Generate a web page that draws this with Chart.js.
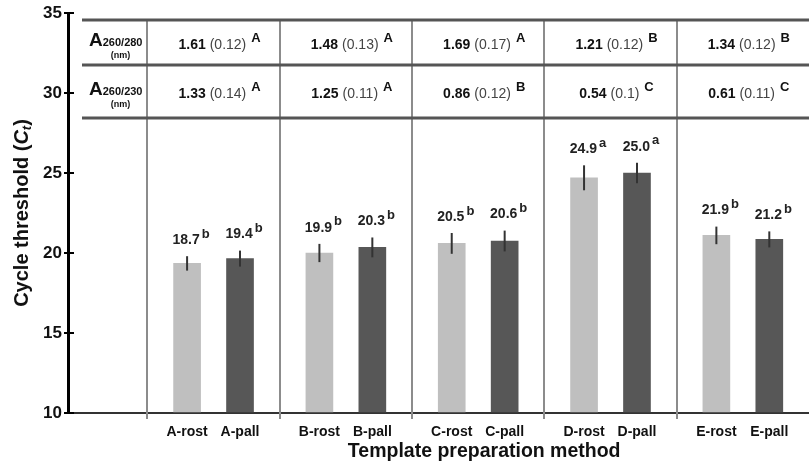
<!DOCTYPE html>
<html>
<head>
<meta charset="utf-8">
<script src="https://cdn.jsdelivr.net/npm/chart.js@4"></script>
<style>
  html, body { margin: 0; padding: 0; background: #fff; }
  #wrap { width: 809px; height: 467px; }
</style>
</head>
<body>
<div id="wrap"><canvas id="c" width="809" height="467"></canvas></div>
<script>
// ---- data ----
const groups = ['A', 'B', 'C', 'D', 'E'];
const barLabels = ['A-rost', 'A-pall', 'B-rost', 'B-pall', 'C-rost', 'C-pall', 'D-rost', 'D-pall', 'E-rost', 'E-pall'];
const rostValues = [19.35, 20.0, 20.6, 24.7, 21.1];
const pallValues = [19.65, 20.35, 20.75, 25.0, 20.85];
const rostErr = [0.45, 0.57, 0.65, 0.78, 0.55];
const pallErr = [0.5, 0.62, 0.65, 0.64, 0.5];
const rostMeanText = ['18.7', '19.9', '20.5', '24.9', '21.9'];
const pallMeanText = ['19.4', '20.3', '20.6', '25.0', '21.2'];
const rostLetters = ['b', 'b', 'b', 'a', 'b'];
const pallLetters = ['b', 'b', 'b', 'a', 'b'];
const a280Mean = ['1.61', '1.48', '1.69', '1.21', '1.34'];
const a280SD = ['(0.12)', '(0.13)', '(0.17)', '(0.12)', '(0.12)'];
const a280Letters = ['A', 'A', 'A', 'B', 'B'];
const a230Mean = ['1.33', '1.25', '0.86', '0.54', '0.61'];
const a230SD = ['(0.14)', '(0.11)', '(0.12)', '(0.1)', '(0.11)'];
const a230Letters = ['A', 'A', 'B', 'C', 'C'];
const yTicks = [10, 15, 20, 25, 30, 35];
const xTitle = 'Template preparation method';

// ---- layout constants ----
const ROST_OFF = 0.3, PALL_OFF = 0.7;
const FONT = '"Liberation Sans", Arial, sans-serif';
const barPositions = [];
groups.forEach((g, i) => { barPositions.push(i + ROST_OFF, i + PALL_OFF); });

const rostData = groups.map((g, i) => ({ x: i + ROST_OFF, y: rostValues[i] }));
const pallData = groups.map((g, i) => ({ x: i + PALL_OFF, y: pallValues[i] }));

function drawRich(ctx, parts, cx, cy) {
  let total = 0;
  parts.forEach(p => { ctx.font = p.font; p.w = ctx.measureText(p.text).width; total += p.w + (p.gap || 0); });
  let x = cx - total / 2;
  ctx.textAlign = 'left';
  ctx.textBaseline = 'middle';
  parts.forEach(p => {
    ctx.font = p.font;
    ctx.fillStyle = p.color || '#111';
    ctx.fillText(p.text, x, cy + (p.dy || 0));
    x += p.w + (p.gap || 0);
  });
}

const overlay = {
  id: 'overlay',
  beforeDatasetsDraw(chart) {
    const ctx = chart.ctx, ca = chart.chartArea;
    const xs = chart.scales.x;
    const t1 = ca.top + 7, t2 = ca.top + 52, t3 = ca.top + 105;
    ctx.save();
    // vertical dividers
    ctx.strokeStyle = '#8c8c8c';
    ctx.lineWidth = 2;
    for (let i = 0; i < groups.length; i++) {
      const px = Math.round(xs.getPixelForValue(i));
      ctx.beginPath(); ctx.moveTo(px, t1); ctx.lineTo(px, ca.bottom + 6); ctx.stroke();
    }
    // horizontal table lines
    ctx.strokeStyle = '#555';
    ctx.lineWidth = 3;
    [t1, t2, t3].forEach(y => {
      ctx.beginPath(); ctx.moveTo(ca.left + 14, y); ctx.lineTo(ca.right, y); ctx.stroke();
    });
    // row headers
    const hdrX = ca.left + 21;
    [[t1, t2, '260/280'], [t2, t3, '260/230']].forEach(([a, b, sub]) => {
      const cy = (a + b) / 2;
      ctx.fillStyle = '#111';
      ctx.textAlign = 'left';
      ctx.textBaseline = 'alphabetic';
      ctx.font = 'bold 19px ' + FONT;
      ctx.fillText('A', hdrX, cy + 3);
      const aw = ctx.measureText('A').width;
      ctx.font = 'bold 11px ' + FONT;
      ctx.fillText(sub, hdrX + aw, cy + 3);
      const sw = ctx.measureText(sub).width;
      ctx.font = 'bold 9px ' + FONT;
      ctx.textAlign = 'center';
      ctx.fillText('(nm)', hdrX + aw + sw / 2 - 2, cy + 15);
    });
    // cells
    const rows = [[t1, t2, a280Mean, a280SD, a280Letters], [t2, t3, a230Mean, a230SD, a230Letters]];
    rows.forEach(([a, b, means, sds, letters]) => {
      const cy = (a + b) / 2 + 3;
      groups.forEach((g, i) => {
        const cx = (xs.getPixelForValue(i) + xs.getPixelForValue(i + 1)) / 2 + 6;
        drawRich(ctx, [
          { text: means[i], font: 'bold 14px ' + FONT, color: '#111', gap: 4 },
          { text: sds[i], font: '14px ' + FONT, color: '#444', gap: 5 },
          { text: letters[i], font: 'bold 13px ' + FONT, color: '#111', dy: -7 }
        ], cx, cy);
      });
    });
    ctx.restore();
  },
  afterDatasetsDraw(chart) {
    const ctx = chart.ctx;
    const xs = chart.scales.x, ys = chart.scales.y;
    ctx.save();
    const sets = [[ROST_OFF, rostValues, rostErr, rostMeanText, rostLetters], [PALL_OFF, pallValues, pallErr, pallMeanText, pallLetters]];
    sets.forEach(([off, vals, errs, txt, lets]) => {
      groups.forEach((g, i) => {
        const px = xs.getPixelForValue(i + off);
        const yTop = ys.getPixelForValue(vals[i] + errs[i]);
        const yBot = ys.getPixelForValue(vals[i] - errs[i]);
        ctx.strokeStyle = '#333';
        ctx.lineWidth = 2;
        ctx.beginPath(); ctx.moveTo(px, yTop); ctx.lineTo(px, yBot); ctx.stroke();
        drawRich(ctx, [
          { text: txt[i], font: 'bold 14px ' + FONT, color: '#222', gap: 2 },
          { text: lets[i], font: 'bold 13px ' + FONT, color: '#222', dy: -6 }
        ], px + 4, yTop - 16);
      });
    });
    ctx.restore();
  },
  afterDraw(chart) {
    const ctx = chart.ctx, ca = chart.chartArea;
    const xs = chart.scales.x, ys = chart.scales.y;
    ctx.save();
    // inner halves of crossing ticks
    ctx.strokeStyle = '#000';
    ctx.lineWidth = 2;
    yTicks.forEach(v => {
      const py = Math.round(ys.getPixelForValue(v));
      ctx.beginPath(); ctx.moveTo(ca.left, py); ctx.lineTo(ca.left + 6, py); ctx.stroke();
    });
    // x title
    ctx.fillStyle = '#111';
    ctx.font = 'bold 19.5px ' + FONT;
    ctx.textAlign = 'center';
    ctx.textBaseline = 'middle';
    ctx.fillText(xTitle, (xs.getPixelForValue(0) + xs.getPixelForValue(groups.length)) / 2 + 6, ca.bottom + 39);
    // y title with italic C and subscript t
    ctx.translate(22, (ca.top + ca.bottom) / 2);
    ctx.rotate(-Math.PI / 2);
    const parts = [
      { text: 'Cycle threshold (', font: 'bold 20px ' + FONT },
      { text: 'C', font: 'italic bold 20px ' + FONT },
      { text: 't', font: 'italic bold 13px ' + FONT, dy: 5 },
      { text: ')', font: 'bold 20px ' + FONT }
    ];
    drawRich(ctx, parts, 0, 0);
    ctx.restore();
  }
};

new Chart(document.getElementById('c'), {
  type: 'bar',
  data: {
    datasets: [
      { label: 'rost', data: rostData, backgroundColor: '#bfbfbf', base: 10, barThickness: 27 },
      { label: 'pall', data: pallData, backgroundColor: '#575757', base: 10, barThickness: 27 }
    ]
  },
  options: {
    responsive: false,
    animation: false,
    events: [],
    grouped: false,
    layout: { padding: { top: 13, right: 0, left: 0, bottom: 0 } },
    plugins: { legend: { display: false }, tooltip: { enabled: false } },
    scales: {
      x: {
        type: 'linear',
        min: -0.6,
        max: 5,
        offset: false,
        afterBuildTicks: s => { s.ticks = barPositions.map(v => ({ value: v })); },
        afterFit: s => { s.height = 54; },
        grid: { display: false },
        border: { display: true, color: '#333', width: 2 },
        ticks: {
          autoSkip: false, maxRotation: 0, padding: 3,
          color: '#111',
          font: { family: FONT, size: 14, weight: 'bold' },
          callback: (v, i) => barLabels[i]
        }
      },
      y: {
        min: 10,
        max: 35,
        afterBuildTicks: s => { s.ticks = yTicks.map(v => ({ value: v })); },
        afterFit: s => { s.width = 68; },
        grid: { drawOnChartArea: false, tickLength: 4, color: '#000', lineWidth: 2 },
        border: { display: true, color: '#000', width: 3 },
        ticks: {
          padding: 2,
          color: '#111',
          font: { family: FONT, size: 17, weight: 'bold' }
        }
      }
    }
  },
  plugins: [overlay]
});
</script>
</body>
</html>
